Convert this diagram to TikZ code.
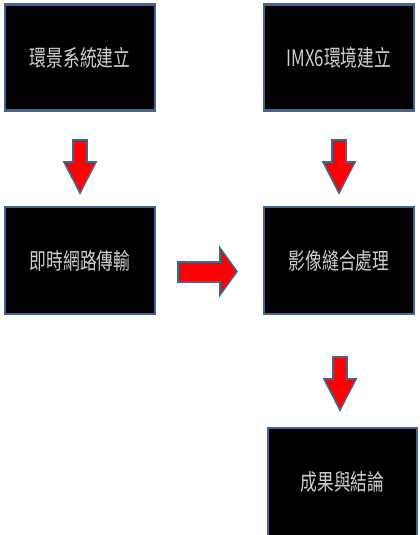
\documentclass[tikz,border=0pt]{standalone}
\usepackage{fontspec}
\newfontfamily\cjk[FakeStretch=0.74]{Noto Sans CJK TC}
\definecolor{bord}{HTML}{41668F}
\definecolor{txt}{HTML}{CFCFCF}
\definecolor{arrred}{HTML}{FF0000}
\begin{document}
\begin{tikzpicture}[x=0.75pt,y=-0.75pt,
  blk/.style={draw=bord, line width=1.6pt, fill=black, text=txt, font=\cjk\fontsize{17}{19}\selectfont, inner sep=0pt},
  barrow/.style={draw=bord, line width=1.2pt, fill=arrred, line join=miter}]
\useasboundingbox (0,0) rectangle (419,535);
\node[blk, minimum width=150*0.75pt, minimum height=106*0.75pt] (b1) at (80,57.5) {環景系統建立};
\node[blk, minimum width=150*0.75pt, minimum height=106*0.75pt] (b2) at (339,57.5) {IMX6環境建立};
\node[blk, minimum width=150*0.75pt, minimum height=107*0.75pt] (b3) at (80,260.5) {即時網路傳輸};
\node[blk, minimum width=150*0.75pt, minimum height=107*0.75pt] (b4) at (339,260.5) {影像縫合處理};
\node[blk, minimum width=149*0.75pt, minimum height=108*0.75pt] (b5) at (342.5,482) {成果與結論};
% down arrow b1 -> b3
\draw[barrow] (73,140) -- (87,140) -- (87,162) -- (96,162) -- (80,193) -- (64,162) -- (73,162) -- cycle;
% down arrow b2 -> b4
\draw[barrow] (332,140) -- (346,140) -- (346,162) -- (355,162) -- (339,193) -- (323,162) -- (332,162) -- cycle;
% right arrow b3 -> b4
\draw[barrow] (178,262) -- (220,262) -- (220,248) -- (237,271.5) -- (220,295) -- (220,282) -- (178,282) -- cycle;
% down arrow b4 -> b5
\draw[barrow] (333,357) -- (347,357) -- (347,379) -- (356,379) -- (340,410) -- (324,379) -- (333,379) -- cycle;
\end{tikzpicture}
\end{document}
